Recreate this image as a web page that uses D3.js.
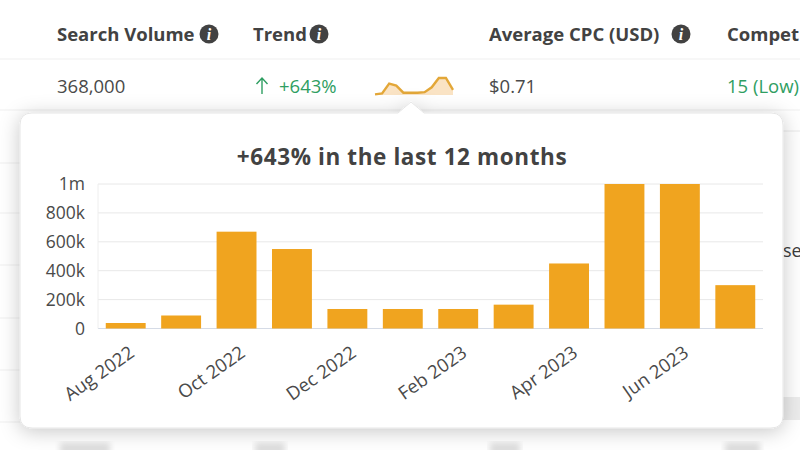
<!DOCTYPE html>
<html>
<head>
<meta charset="utf-8">
<script src="https://cdn.jsdelivr.net/npm/d3@7"></script>
<style>
html, body { margin: 0; padding: 0; background: #fff; overflow: hidden; }
text { font-family: "Open Sans", "Noto Sans", sans-serif; }
.axis path { display: none; }
.axis line { stroke: none; }
.axis text { font-size: 17.5px; fill: #4a4a4a; }
.axis.x-axis text { font-size: 18.5px; }
</style>
</head>
<body>
<div id="chart"></div>
<script>
var months = ["Aug 2022", "Sep 2022", "Oct 2022", "Nov 2022", "Dec 2022", "Jan 2023",
    "Feb 2023", "Mar 2023", "Apr 2023", "May 2023", "Jun 2023", "Jul 2023"];
var searchVolume = [38000, 90000, 670000, 550000, 135000, 135000,
    135000, 165000, 450000, 1000000, 1000000, 300000];
var yTicks = [0, 200000, 400000, 600000, 800000, 1000000];
var xTickLabels = ["Aug 2022", "Oct 2022", "Dec 2022", "Feb 2023", "Apr 2023", "Jun 2023"];
var headers = ["Search Volume", "Trend", "Average CPC (USD)", "Compet"];
var cells = ["368,000", "+643%", "$0.71", "15 (Low)"];

var width = 800;
var height = 450;
var padding = { top: 184, right: 37, bottom: 121.5, left: 98 };

var svg = d3.select('#chart')
    .append('svg')
    .attr('width', width)
    .attr('height', height)
    .attr('viewBox', "0 0 " + width + " " + height)
    .style('display', 'block');

var defs = svg.append('defs');
var shadow = defs.append('filter').attr('id', 'shadow')
    .attr('x', '-10%').attr('y', '-15%').attr('width', '120%').attr('height', '130%');
shadow.append('feDropShadow')
    .attr('dx', 0).attr('dy', 3).attr('stdDeviation', 10)
    .attr('flood-color', '#000').attr('flood-opacity', 0.22);
var blur = defs.append('filter').attr('id', 'blur');
blur.append('feGaussianBlur').attr('stdDeviation', 3);

// table behind the popup
var rowLines = [59, 110, 163, 213, 265, 318, 370, 422];
svg.selectAll('.row-line')
    .data(rowLines)
    .enter().append('line')
    .attr('class', 'row-line')
    .attr('x1', 0)
    .attr('x2', function(d) { return d < 120 ? width : 20; })
    .attr('y1', function(d) { return d; }).attr('y2', function(d) { return d; })
    .attr('stroke', '#efefef');
svg.append('line')
    .attr('x1', 780).attr('x2', width)
    .attr('y1', 131).attr('y2', 131)
    .attr('stroke', '#e8e8e8');
svg.append('rect')
    .attr('x', 783).attr('y', 397)
    .attr('width', 17).attr('height', 23)
    .attr('fill', '#ececec');

var headerX = [57, 253, 489, 727];
var infoX = [209, 319, 681];
svg.selectAll('.header')
    .data(headers)
    .enter().append('text')
    .attr('class', 'header')
    .attr('x', function(d, i) { return headerX[i]; })
    .attr('y', 41)
    .attr('font-size', 18.5)
    .attr('font-weight', 700)
    .attr('fill', '#424242')
    .text(function(d) { return d; });

var info = svg.selectAll('.info')
    .data(infoX)
    .enter().append('g')
    .attr('class', 'info')
    .attr('transform', function(d) { return 'translate(' + d + ',34)'; });
info.append('circle').attr('r', 9.5).attr('fill', '#424242');
info.append('text')
    .attr('y', 5.5)
    .attr('text-anchor', 'middle')
    .attr('font-size', 16)
    .attr('font-weight', 700)
    .attr('font-style', 'italic')
    .style('font-family', 'Liberation Serif')
    .attr('fill', '#fff')
    .text('i');

var cellX = [57, 279, 489, 727];
var cellColor = ['#4a4a4a', '#2f9e62', '#4a4a4a', '#2f9e62'];
svg.selectAll('.cell')
    .data(cells)
    .enter().append('text')
    .attr('class', 'cell')
    .attr('x', function(d, i) { return cellX[i]; })
    .attr('y', 93)
    .attr('font-size', 18.5)
    .attr('fill', function(d, i) { return cellColor[i]; })
    .text(function(d) { return d; });

// up arrow next to the trend
svg.append('path')
    .attr('d', 'M262 94V78M256.5 84L262 78L267.5 84')
    .attr('fill', 'none')
    .attr('stroke', '#2f9e62')
    .attr('stroke-width', 1.4);

// sparkline uses the same monthly values
var sparkX = d3.scalePoint().domain(months).range([375, 453]);
var sparkY = d3.scaleLinear().domain([0, 1000000]).range([95, 78]);
var sparkLine = d3.line()
    .x(function(d, i) { return sparkX(months[i]); })
    .y(function(d) { return sparkY(d); });
var sparkArea = d3.area()
    .x(function(d, i) { return sparkX(months[i]); })
    .y0(95)
    .y1(function(d) { return sparkY(d); });
svg.append('path')
    .attr('d', sparkArea(searchVolume))
    .attr('fill', '#fae3c4');
svg.append('path')
    .attr('d', sparkLine(searchVolume))
    .attr('fill', 'none')
    .attr('stroke', '#e3a738')
    .attr('stroke-width', 2.4);

// blurred row at the bottom and text cut by the popup
var blurX = [60, 255, 490, 725];
var blurW = [50, 30, 30, 35];
svg.selectAll('.blur-cell')
    .data(blurX)
    .enter().append('rect')
    .attr('class', 'blur-cell')
    .attr('x', function(d) { return d; })
    .attr('y', 443)
    .attr('width', function(d, i) { return blurW[i]; })
    .attr('height', 12)
    .attr('fill', '#dddddd')
    .attr('filter', 'url(#blur)');
svg.append('text')
    .attr('x', 783)
    .attr('y', 257)
    .attr('font-size', 18)
    .attr('fill', '#3c3c3c')
    .text('se');

// popup
svg.append('path')
    .attr('d', 'M32 113H398L411 102L424 113H771Q783 113 783 125V416Q783 428 771 428H32Q20 428 20 416V125Q20 113 32 113Z')
    .attr('fill', '#fff')
    .attr('stroke', '#e6e6e6')
    .attr('filter', 'url(#shadow)');

svg.append('text')
    .attr('x', 402)
    .attr('y', 165)
    .attr('text-anchor', 'middle')
    .attr('font-size', 22.5)
    .attr('font-weight', 700)
    .attr('letter-spacing', 0.6)
    .attr('fill', '#424242')
    .text('+643% in the last 12 months');

var xScale = d3.scaleBand()
    .domain(months)
    .range([0, width - padding.left - padding.right])
    .paddingInner(0.28)
    .paddingOuter(0.14);
var yScale = d3.scaleLinear()
    .domain([0, 1000000])
    .range([height - padding.top - padding.bottom, 0]);

var plot = svg.append('g')
    .attr('transform', 'translate(' + padding.left + ',' + padding.top + ')');

plot.selectAll('.grid')
    .data(yTicks)
    .enter().append('line')
    .attr('class', 'grid')
    .attr('x1', 0).attr('x2', width - padding.left - padding.right)
    .attr('y1', function(d) { return yScale(d); })
    .attr('y2', function(d) { return yScale(d); })
    .attr('stroke', function(d) { return d === 0 ? '#d5dbe6' : '#e8e8e8'; });
plot.append('line')
    .attr('x1', 0).attr('x2', 0)
    .attr('y1', 0).attr('y2', yScale(0))
    .attr('stroke', '#eeeeee');

plot.selectAll('.bar')
    .data(searchVolume)
    .enter().append('rect')
    .attr('class', 'bar')
    .attr('x', function(d, i) { return xScale(months[i]); })
    .attr('y', function(d) { return yScale(d); })
    .attr('width', xScale.bandwidth())
    .attr('height', function(d) { return yScale(0) - yScale(d); })
    .attr('fill', '#f0a41f');

var yAxis = d3.axisLeft(yScale)
    .tickValues(yTicks)
    .tickSize(0)
    .tickPadding(13)
    .tickFormat(function(d) { return d === 0 ? '0' : d === 1000000 ? '1m' : (d / 1000) + 'k'; });
plot.append('g').attr('class', 'axis').call(yAxis);

var xAxis = d3.axisBottom(xScale)
    .tickValues(xTickLabels)
    .tickSize(0)
    .tickPadding(0);
plot.append('g')
    .attr('class', 'axis x-axis')
    .attr('transform', 'translate(0,' + yScale(0) + ')')
    .call(xAxis)
    .selectAll('text')
    .attr('text-anchor', 'end')
    .attr('dy', 0)
    .attr('transform', 'translate(10,27) rotate(-35)');
</script>
</body>
</html>
